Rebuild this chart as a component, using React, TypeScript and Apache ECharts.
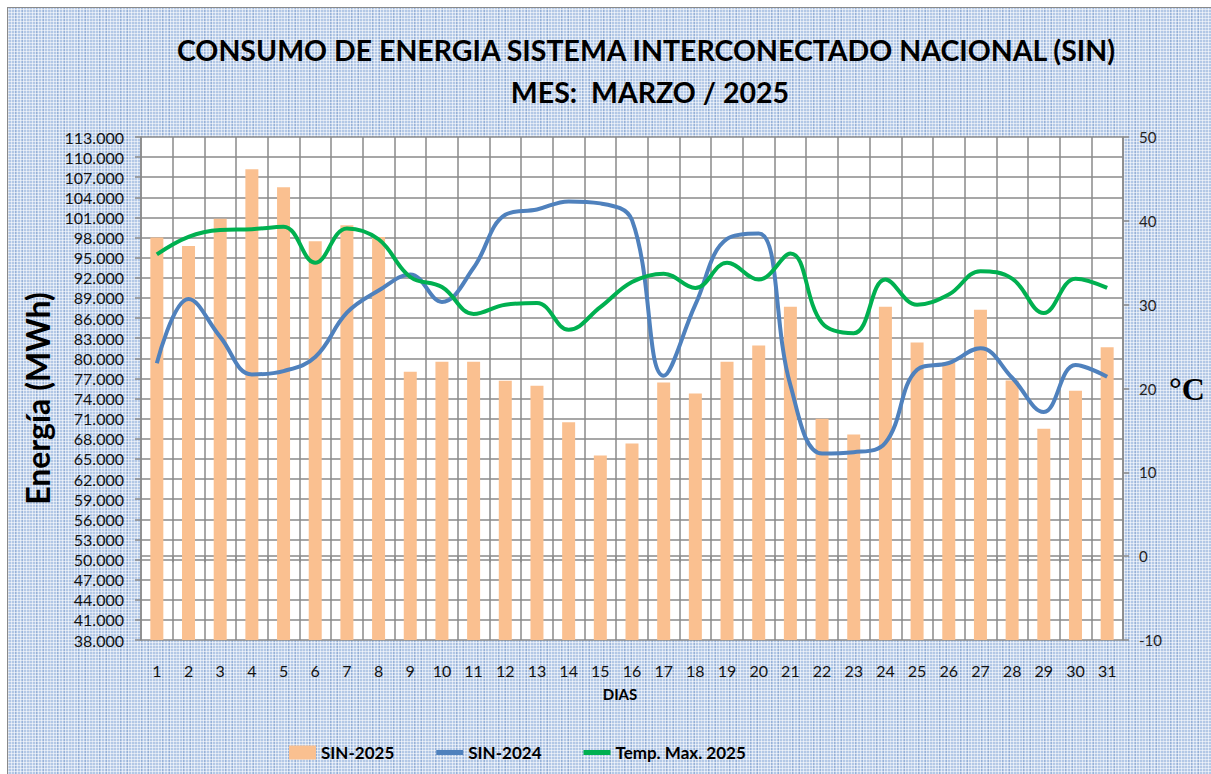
import React, { useEffect, useRef } from "react";
import * as echarts from "echarts";

const days = ["1","2","3","4","5","6","7","8","9","10","11","12","13","14","15","16","17","18","19","20","21","22","23","24","25","26","27","28","29","30","31"];

const sin2025 = [98000, 96750, 100800, 108200, 105500, 97450, 99850, 98100, 78000, 79500, 79500, 76650, 75900, 70450, 65500, 67300, 76400, 74750, 79500, 81900, 87700, 71000, 68650, 87700, 82350, 79400, 87250, 76700, 69500, 75150, 81650];

const sin2024 = [79250, 88850, 83200, 77600, 78100, 80200, 86800, 90100, 92500, 88400, 93500, 101400, 102200, 103400, 103100, 100600, 77400, 88000, 97800, 98600, 76000, 65800, 66000, 67400, 78300, 79300, 81500, 77100, 72000, 79000, 77250];

const tempMax2025 = [36.0, 38.1, 38.9, 39.0, 39.3, 35.0, 39.1, 37.8, 33.3, 32.1, 28.9, 30.0, 30.2, 27.0, 29.7, 32.7, 33.7, 32.0, 35.0, 33.0, 36.1, 27.8, 26.6, 33.0, 30.0, 31.2, 34.0, 33.1, 29.0, 33.1, 32.0];

const leftTicks = [38000, 41000, 44000, 47000, 50000, 53000, 56000, 59000, 62000, 65000, 68000, 71000, 74000, 77000, 80000, 83000, 86000, 89000, 92000, 95000, 98000, 101000, 104000, 107000, 110000, 113000];

const titleLine1 = "CONSUMO DE ENERGIA SISTEMA INTERCONECTADO NACIONAL (SIN)";
const titleLine2 = "MES:  MARZO / 2025";

const GRID = "#8a8a8a";
const LINE_ICON = "path://M0,0h27v5h-27z";

export default function App() {
  const ref = useRef<HTMLDivElement>(null);
  useEffect(() => {
    if (!ref.current) return;
    const chart = echarts.init(ref.current, null, { renderer: "svg" });
    chart.setOption({
      animation: false,
      backgroundColor: "transparent",
      textStyle: { fontFamily: "Lato" },
      graphic: [
        {
          type: "text",
          x: 638,
          y: 42,
          style: {
            text: titleLine1,
            align: "center",
            verticalAlign: "middle",
            fontFamily: "Lato",
            fontWeight: "bold",
            fontSize: 28.5,
            fill: "#000",
          },
        },
        {
          type: "text",
          x: 642,
          y: 84,
          style: {
            text: titleLine2,
            align: "center",
            verticalAlign: "middle",
            fontFamily: "Lato",
            fontWeight: "bold",
            fontSize: 28.5,
            fill: "#000",
          },
        },
      ],
      legend: {
        left: 276,
        top: 731,
        itemGap: 42,
        itemWidth: 27,
        itemHeight: 14,
        symbolKeepAspect: true,
        textStyle: { fontFamily: "Lato", fontWeight: "bold", fontSize: 17, color: "#000" },
        data: [
          { name: "SIN-2025", icon: "rect" },
          { name: "SIN-2024", icon: LINE_ICON },
          { name: "Temp. Max. 2025", icon: LINE_ICON },
        ],
      },
      grid: {
        left: 133,
        top: 129,
        width: 982,
        height: 503,
        show: true,
        backgroundColor: "#ffffff",
        borderWidth: 0,
      },
      xAxis: {
        type: "category",
        data: days,
        boundaryGap: true,
        name: "DIAS",
        nameLocation: "middle",
        nameGap: 46,
        nameTextStyle: { fontFamily: "Lato", fontWeight: "bold", fontSize: 15, color: "#000", padding: [0, 24, 0, 0] },
        axisLine: { show: true, lineStyle: { color: GRID, width: 1.5 } },
        axisTick: { show: true, interval: 0, length: 6, lineStyle: { color: GRID, width: 1.5 } },
        axisLabel: { interval: 0, margin: 22, fontSize: 16, color: "#111", fontFamily: "Lato" },
        splitLine: { show: true, interval: 0, lineStyle: { color: GRID, width: 1.5 } },
      },
      yAxis: [
        {
          type: "value",
          min: 38000,
          max: 113000,
          position: "left",
          name: "Energía (MWh)",
          nameLocation: "middle",
          nameGap: 86,
          nameTextStyle: { fontFamily: "Lato", fontWeight: "bold", fontSize: 32, color: "#000", padding: [0, 20, 0, 0] },
          axisLine: { show: true, lineStyle: { color: GRID, width: 1.5 } },
          axisTick: { show: true, length: 6, customValues: leftTicks, lineStyle: { color: GRID, width: 1.5 } },
          axisLabel: {
            customValues: leftTicks,
            margin: 17,
            fontSize: 16,
            color: "#111",
            fontFamily: "Lato",
            formatter: (v: number) => String(Math.round(v / 1000)) + ".000",
          },
          splitLine: { show: true, lineStyle: { color: GRID, width: 1.5 } },
        },
        {
          type: "value",
          min: -10,
          max: 50,
          interval: 10,
          position: "right",
          name: "°C",
          nameLocation: "middle",
          nameRotate: 0,
          nameGap: 46,
          nameTextStyle: { fontFamily: "Liberation Serif", fontWeight: "bold", fontSize: 32, color: "#000", align: "left", verticalAlign: "middle" },
          axisLine: { show: true, lineStyle: { color: GRID, width: 1.5 } },
          axisTick: { show: true, length: 6, lineStyle: { color: GRID, width: 1.5 } },
          axisLabel: { margin: 16, fontSize: 15, color: "#222", fontFamily: "Lato" },
          splitLine: { show: false },
        },
      ],
      series: [
        {
          name: "SIN-2025",
          type: "bar",
          yAxisIndex: 0,
          data: sin2025,
          barWidth: 13,
          itemStyle: { color: "#FAC090" },
          z: 2,
        },
        {
          name: "SIN-2024",
          type: "line",
          yAxisIndex: 0,
          data: sin2024,
          smooth: 0.4,
          symbol: "none",
          lineStyle: { color: "#4F81BD", width: 4 },
          itemStyle: { color: "#4F81BD" },
          z: 3,
        },
        {
          name: "Temp. Max. 2025",
          type: "line",
          yAxisIndex: 1,
          data: tempMax2025,
          smooth: 0.4,
          symbol: "none",
          lineStyle: { color: "#00B050", width: 4 },
          itemStyle: { color: "#00B050" },
          z: 4,
        },
      ],
    });
    return () => chart.dispose();
  }, []);

  const bg: React.CSSProperties = {
    position: "fixed",
    left: 7,
    top: 7,
    width: 1204,
    height: 767,
    borderLeft: "1px solid #8a8a8a",
    borderTop: "1px solid #8a8a8a",
    backgroundColor: "#b3c8e6",
    backgroundImage:
      "repeating-linear-gradient(90deg, rgba(255,255,255,0.55) 0px, rgba(255,255,255,0.55) 1px, transparent 1px, transparent 3px)," +
      "repeating-linear-gradient(0deg, rgba(255,255,255,0.55) 0px, rgba(255,255,255,0.55) 1px, transparent 1px, transparent 3px)," +
      "repeating-linear-gradient(90deg, rgba(70,110,170,0.25) 0px, rgba(70,110,170,0.25) 1px, transparent 1px, transparent 7px)",
  };

  return <div ref={ref} style={bg} />;
}
